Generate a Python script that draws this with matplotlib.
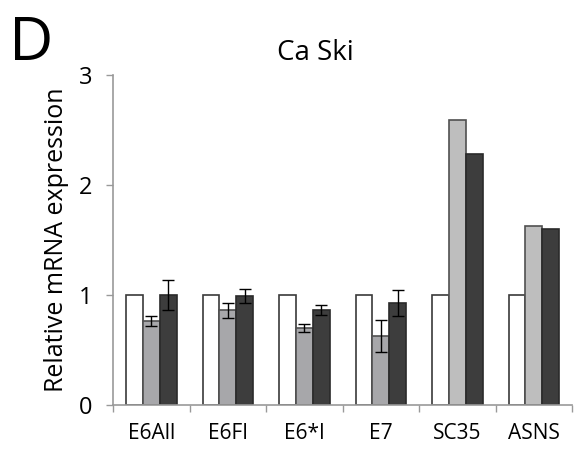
import numpy as np
import matplotlib.pyplot as plt

plt.rcParams['font.family'] = ['Open Sans', 'DejaVu Sans']

genes = ["E6All", "E6FI", "E6*I", "E7", "SC35", "ASNS"]
control = [1, 1, 1, 1, 1, 1]
treat_a = [0.76, 0.86, 0.70, 0.63, 2.59, 1.63]
treat_b = [1.00, 0.99, 0.86, 0.93, 2.28, 1.60]
err_a = [0.045, 0.07, 0.035, 0.145, 0, 0]
err_b = [0.14, 0.065, 0.045, 0.12, 0, 0]

grey_a = ["#a7a7aa", "#a7a7aa", "#a7a7aa", "#a7a7aa", "#bebebe", "#bebebe"]

fig = plt.figure(figsize=(5.74, 4.53), dpi=100)
ax = fig.add_axes([0.197, 0.106, 0.7995, 0.728])

x = np.arange(len(genes))
w = 0.22
ax.bar(x - w, control, w, color="white", edgecolor="#3a3a3a", linewidth=1.2)
ax.bar(x, treat_a, w, color=grey_a, edgecolor="#505050", linewidth=1.2)
ax.bar(x + w, treat_b, w, color="#3d3d3d", edgecolor="#2a2a2a", linewidth=1.2)

has_err = np.array(err_a) > 0
ax.errorbar(x[has_err], np.array(treat_a)[has_err], yerr=np.array(err_a)[has_err],
            fmt="none", ecolor="black", elinewidth=1, capsize=4, capthick=1)
has_err = np.array(err_b) > 0
ax.errorbar(x[has_err] + w, np.array(treat_b)[has_err], yerr=np.array(err_b)[has_err],
            fmt="none", ecolor="black", elinewidth=1, capsize=4, capthick=1)

ax.set_xlim(-0.5, len(genes) - 0.5)
ax.set_ylim(0, 3)
ax.set_yticks([0, 1, 2, 3])
ax.set_xticks(x)
ax.set_xticklabels(genes, fontsize=15)
ax.set_xticks(np.arange(len(genes) + 1) - 0.5, minor=True)
ax.tick_params(axis="x", which="major", length=0, pad=13)
ax.tick_params(axis="x", which="minor", length=5, color="#999999", width=1)
ax.tick_params(axis="y", length=5, color="#999999", width=1, labelsize=17, pad=10)

for side in ["top", "right"]:
    ax.spines[side].set_visible(False)
for side in ["left", "bottom"]:
    ax.spines[side].set_color("#999999")
    ax.spines[side].set_linewidth(1.2)

ax.set_ylabel("Relative mRNA expression", fontsize=18, labelpad=7)
ax.set_title("Ca Ski", fontsize=20, pad=11, x=0.44)
fig.text(0.015, 0.968, "D", fontsize=44, va="top", ha="left")

fig.savefig("out.png", dpi=100)
